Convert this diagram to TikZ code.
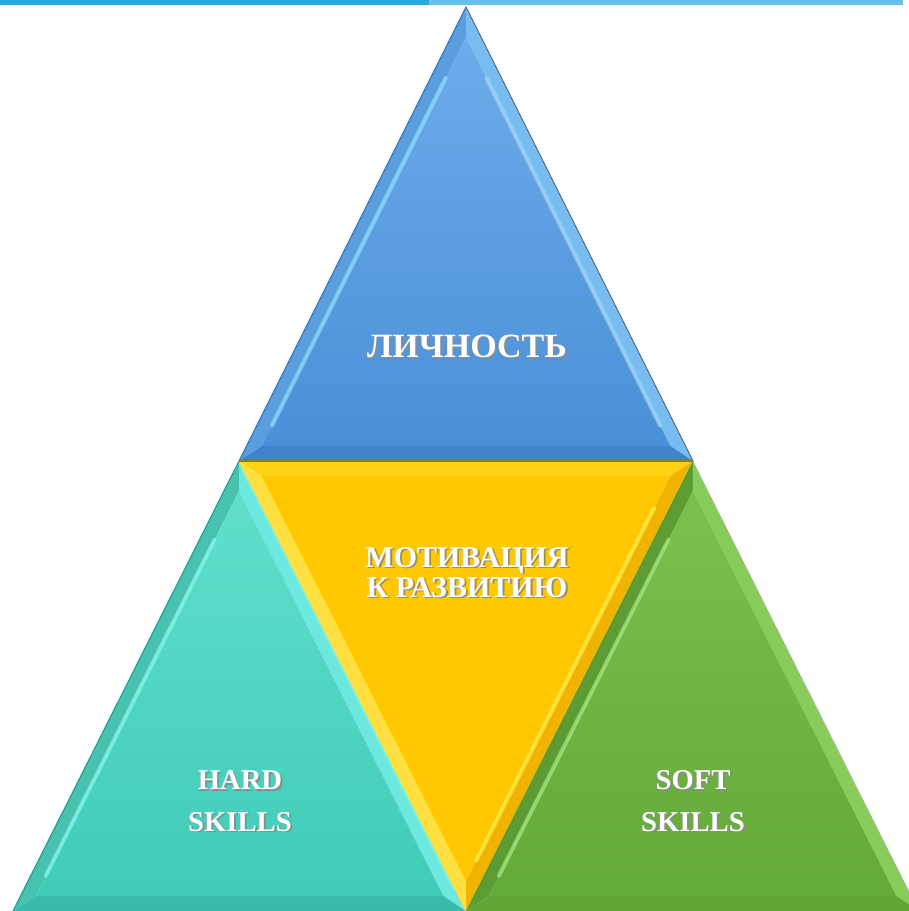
\documentclass[tikz,border=0pt]{standalone}
\usepackage{fontspec}
\setmainfont{Liberation Serif}
\usetikzlibrary{calc}

\definecolor{barD}{HTML}{2AA9E0}
\definecolor{barL}{HTML}{66C2EC}
% teal
\definecolor{hardL}{RGB}{70,194,174}
\definecolor{hardR}{RGB}{108,232,222}
\definecolor{hardB}{RGB}{58,186,168}
\definecolor{hardT}{RGB}{96,222,204}
\definecolor{hardM}{RGB}{64,204,184}
\definecolor{hardH}{RGB}{140,248,242}
\definecolor{hardE}{RGB}{120,250,240}
\definecolor{hardO}{RGB}{46,150,134}
% green
\definecolor{softL}{RGB}{92,156,50}
\definecolor{softR}{RGB}{136,204,92}
\definecolor{softB}{RGB}{98,166,56}
\definecolor{softT}{RGB}{124,192,78}
\definecolor{softM}{RGB}{100,170,56}
\definecolor{softH}{RGB}{170,234,136}
\definecolor{softO}{RGB}{76,138,42}
% blue
\definecolor{lichL}{RGB}{90,158,224}
\definecolor{lichR}{RGB}{120,188,240}
\definecolor{lichB}{RGB}{64,130,204}
\definecolor{lichT}{RGB}{108,172,234}
\definecolor{lichM}{RGB}{74,144,216}
\definecolor{lichH}{RGB}{143,227,250}
\definecolor{lichG}{RGB}{165,216,248}
\definecolor{lichO}{RGB}{59,111,168}
% yellow
\definecolor{motT}{RGB}{255,210,20}
\definecolor{motL}{RGB}{255,224,64}
\definecolor{motR}{RGB}{240,180,0}
\definecolor{motM}{RGB}{255,200,0}
\definecolor{motH}{RGB}{255,240,80}
\definecolor{motO}{RGB}{150,118,40}

\newcommand\shtxt[1]{\leavevmode\rlap{\kern1.4pt\raisebox{-1.4pt}{\textcolor{black!45}{#1}}}#1}

\begin{document}
\begin{tikzpicture}[x=0.75pt,y=-0.75pt,
 lbl/.style = {text=white, align=center, inner sep=0pt, anchor=base},
 rim/.style = {draw=#1, line width=0.8pt, line join=round},
 hi/.style = {draw=#1, line width=3pt, line cap=round, opacity=0.7}]

\useasboundingbox (0,0) rectangle (909,911);
\clip (0,0) rectangle (909,911);

% bar along the top
\fill[barD] (0,0) rectangle (429,5);
\fill[barL] (429,0) rectangle (903,5);

% outer corners
\coordinate (t) at (466,7);
\coordinate (l) at (239,461);
\coordinate (r) at (693,461);
\coordinate (b) at (466,911);
\coordinate (bl) at (13,911);
\coordinate (br) at (919,911);

% centres
\coordinate (c1) at (466,309.7);
\coordinate (c2) at (466,611);
\coordinate (c3) at (239.3,761);
\coordinate (c4) at (692.7,761);

% inner corners (bevel)
\coordinate (t1) at ($(c1)!0.9!(t)$);
\coordinate (l1) at ($(c1)!0.9!(l)$);
\coordinate (r1) at ($(c1)!0.9!(r)$);
\coordinate (l2) at ($(c2)!0.9!(l)$);
\coordinate (r2) at ($(c2)!0.9!(r)$);
\coordinate (b2) at ($(c2)!0.9!(b)$);
\coordinate (l3) at ($(c3)!0.9!(l)$);
\coordinate (bl3) at ($(c3)!0.9!(bl)$);
\coordinate (b3) at ($(c3)!0.9!(b)$);
\coordinate (r4) at ($(c4)!0.9!(r)$);
\coordinate (b4) at ($(c4)!0.9!(b)$);
\coordinate (br4) at ($(c4)!0.9!(br)$);

% hard skills (teal)
\fill[hardL] (l) -- (bl) -- (bl3) -- (l3) -- cycle;
\fill[hardR] (l) -- (b) -- (b3) -- (l3) -- cycle;
\fill[hardB] (bl) -- (b) -- (b3) -- (bl3) -- cycle;
\shade[top color=hardT, bottom color=hardM] (l3) -- (bl3) -- (b3) -- cycle;
\draw[hi=hardH] ($(l3)!0.12!(bl3)$) -- ($(l3)!0.95!(bl3)$);
\draw[hi=hardE] ($(l)!0.02!(b)$) -- ($(l)!0.95!(b)$);
\draw[rim=hardO] (l) -- (bl);

% soft skills (green)
\fill[softL] (r) -- (b) -- (b4) -- (r4) -- cycle;
\fill[softR] (r) -- (br) -- (br4) -- (r4) -- cycle;
\fill[softB] (b) -- (br) -- (br4) -- (b4) -- cycle;
\shade[top color=softT, bottom color=softM] (r4) -- (b4) -- (br4) -- cycle;
\draw[hi=softH] ($(r4)!0.12!(b4)$) -- ($(r4)!0.95!(b4)$);
\draw[rim=softO] (r) -- (b);

% personality (blue)
\fill[lichL] (t) -- (l) -- (l1) -- (t1) -- cycle;
\fill[lichR] (t) -- (r) -- (r1) -- (t1) -- cycle;
\fill[lichB] (l) -- (r) -- (r1) -- (l1) -- cycle;
\shade[top color=lichT, bottom color=lichM] (t1) -- (l1) -- (r1) -- cycle;
\draw[hi=lichH] ($(t1)!0.1!(l1)$) -- ($(t1)!0.95!(l1)$);
\draw[hi=lichG] ($(t1)!0.1!(r1)$) -- ($(t1)!0.95!(r1)$);
\draw[rim=lichO] (l) -- (t) -- (r);

% motivation (yellow)
\fill[motT] (l) -- (r) -- (r2) -- (l2) -- cycle;
\fill[motL] (l) -- (b) -- (b2) -- (l2) -- cycle;
\fill[motR] (r) -- (b) -- (b2) -- (r2) -- cycle;
\fill[motM] (l2) -- (r2) -- (b2) -- cycle;
\draw[hi=motH] ($(r2)!0.08!(b2)$) -- ($(r2)!0.95!(b2)$);
\draw[rim=motO] (l) -- (r);

% labels
\node (lich) [lbl, font=\fontsize{25.5}{30}\selectfont\bfseries] at (467,357) {\shtxt{ЛИЧНОСТЬ}};
\node (motiv) [lbl, font=\fontsize{22.5}{22.5}\selectfont\bfseries] at (467,597) {\shtxt{МОТИВАЦИЯ}\\\shtxt{К РАЗВИТИЮ}};
\node (hard) [lbl, font=\fontsize{21.5}{31}\selectfont\bfseries] at (240,831) {\shtxt{HARD}\\\shtxt{SKILLS}};
\node (soft) [lbl, font=\fontsize{21.5}{31}\selectfont\bfseries] at (693,831) {\shtxt{SOFT}\\\shtxt{SKILLS}};

\end{tikzpicture}
\end{document}
